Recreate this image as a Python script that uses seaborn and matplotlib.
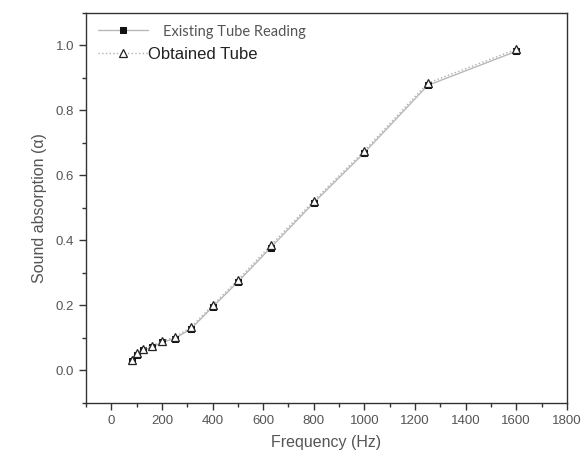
import numpy as np
import pandas as pd
import matplotlib
matplotlib.use("Agg")
import matplotlib.pyplot as plt
from matplotlib.ticker import MultipleLocator
import seaborn as sns

# data
freq = [80, 100, 125, 160, 200, 250, 315, 400, 500, 630, 800, 1000, 1250, 1600]
existing = [0.028, 0.048, 0.062, 0.071, 0.086, 0.098, 0.128, 0.195, 0.272, 0.378, 0.516, 0.670, 0.877, 0.982]
obtained = [0.032, 0.052, 0.066, 0.075, 0.090, 0.102, 0.133, 0.200, 0.278, 0.385, 0.522, 0.676, 0.884, 0.988]

df_existing = pd.DataFrame({"freq": freq, "alpha": existing})
df_obtained = pd.DataFrame({"freq": freq, "alpha": obtained})

sns.set_style("ticks")
plt.rcParams["font.family"] = ["Liberation Sans", "DejaVu Sans"]

fig = plt.figure(figsize=(5.85, 4.62), dpi=100)
ax = fig.add_axes([0.147, 0.128, 0.822, 0.844])

sns.lineplot(data=df_existing, x="freq", y="alpha", ax=ax, color="#b8b8b8",
             linewidth=1.0, marker="s", markersize=4.5, markerfacecolor="#111111",
             markeredgecolor="#111111", label="    Existing Tube Reading")
sns.lineplot(data=df_obtained, x="freq", y="alpha", ax=ax, color="#b0b0b0",
             linewidth=1.0, linestyle=":", marker="^", markersize=5.5,
             markerfacecolor="white", markeredgecolor="#222222", markeredgewidth=0.9,
             label="Obtained Tube")

ax.set_xlim(-100, 1800)
ax.set_ylim(-0.1, 1.1)
ax.xaxis.set_major_locator(MultipleLocator(200))
ax.xaxis.set_minor_locator(MultipleLocator(100))
ax.yaxis.set_major_locator(MultipleLocator(0.2))
ax.yaxis.set_minor_locator(MultipleLocator(0.1))
ax.set_yticks([0.0, 0.2, 0.4, 0.6, 0.8, 1.0])
ax.set_yticklabels(["0.0", "0.2", "0.4", "0.6", "0.8", "1.0"])

ax.tick_params(axis="both", which="major", direction="out", length=5, width=1,
               labelsize=9.5, labelcolor="#555555", color="#333333")
ax.tick_params(axis="both", which="minor", direction="out", length=3, width=1, color="#333333")

for side in ["top", "right", "left", "bottom"]:
    ax.spines[side].set_visible(True)
    ax.spines[side].set_color("#333333")
    ax.spines[side].set_linewidth(1.0)

ax.set_xlabel("Frequency (Hz)", fontsize=11.5, color="#555555", labelpad=6)
ax.set_ylabel("Sound absorption (α)", fontsize=11.5, color="#555555", labelpad=6)

leg = ax.legend(loc="upper left", bbox_to_anchor=(0.0, 1.0), frameon=False,
                fontsize=12, handlelength=3.0, handletextpad=0.05,
                labelspacing=0.45, borderaxespad=0.3)
texts = leg.get_texts()
texts[0].set_fontfamily(["Lato", "DejaVu Sans"])
texts[0].set_fontsize(10.5)
texts[0].set_color("#555555")
texts[1].set_color("#222222")

fig.savefig("out.png", dpi=100)
